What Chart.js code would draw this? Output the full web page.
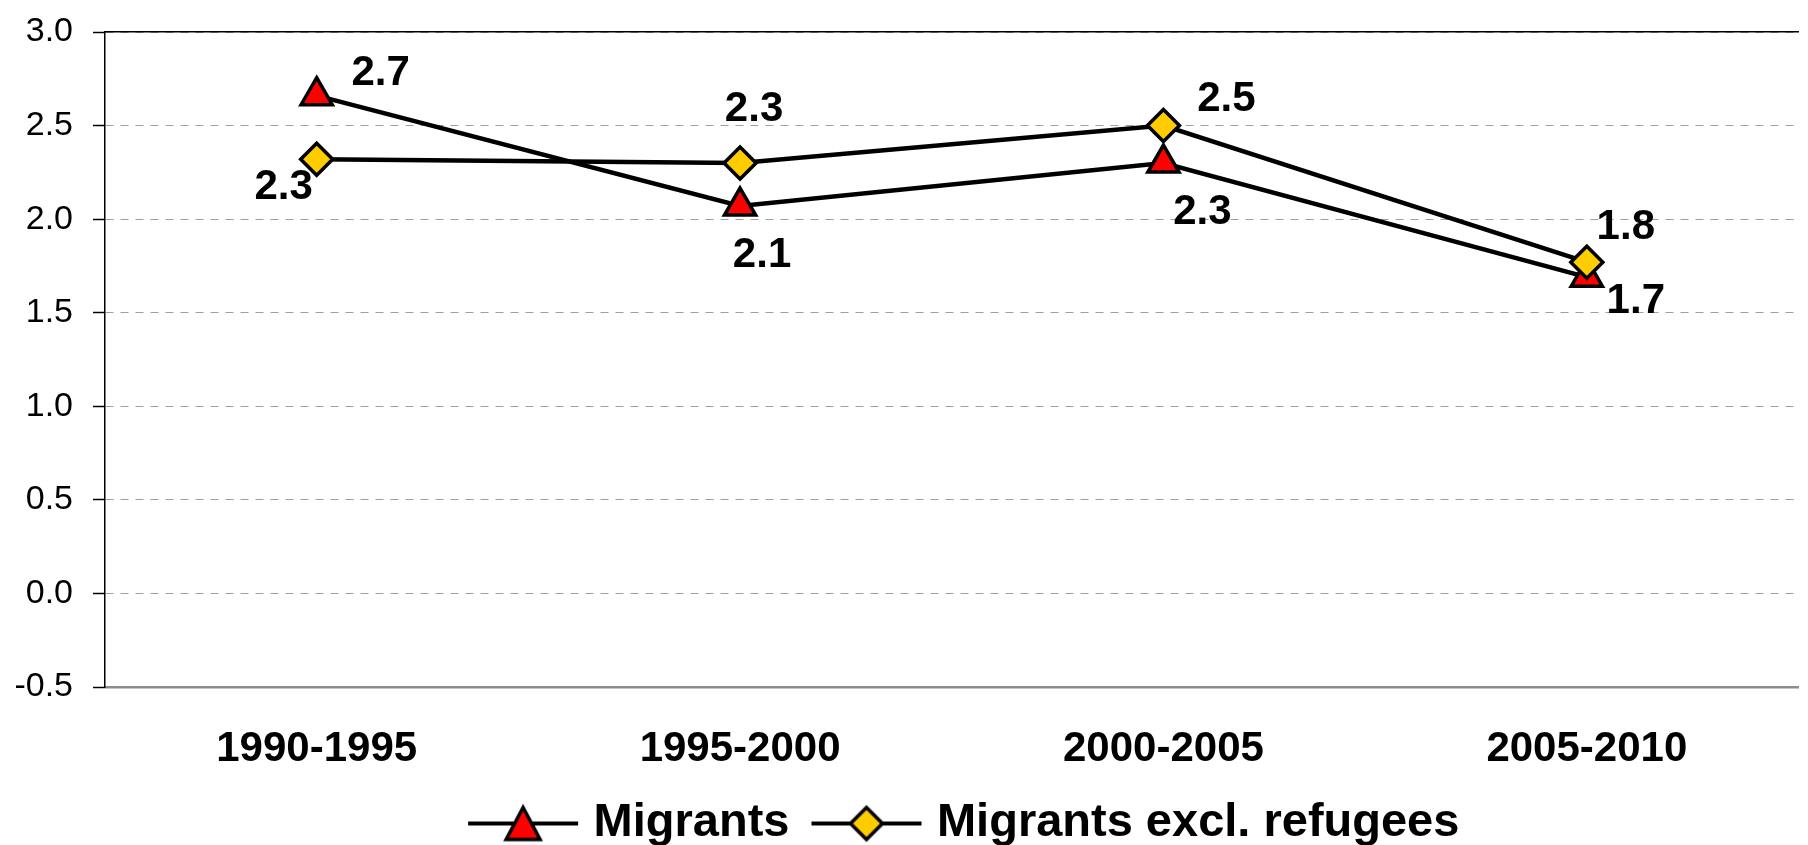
<!DOCTYPE html>
<html>
<head>
<meta charset="utf-8">
<script src="https://cdn.jsdelivr.net/npm/chart.js@4.4.1/dist/chart.umd.min.js"></script>
<style>
  html, body { margin: 0; padding: 0; background: #fff; overflow: hidden; }
  #wrap { width: 1820px; height: 857px; }
</style>
</head>
<body>
<div id="wrap"><canvas id="chart" width="1820" height="857"></canvas></div>
<script>
const periods = ['1990-1995', '1995-2000', '2000-2005', '2005-2010'];
const migrants = [2.66, 2.07, 2.30, 1.69];
const migrantsExclRefugees = [2.32, 2.30, 2.50, 1.77];
const yTicks = [-0.5, 0.0, 0.5, 1.0, 1.5, 2.0, 2.5, 3.0];
const seriesNames = ['Migrants', 'Migrants excl. refugees'];

// where each value label sits relative to its marker, in px
const labelOffsets = [
  [[64, -22], [22, 49], [39, 49], [49, 24]],
  [[-33, 28], [14, -54], [63, -26], [39, -35]]
];

const FONT = "'Liberation Sans', Arial, sans-serif";

// line + marker symbol for the legend
function legendSymbol(shape, fill) {
  const c = document.createElement('canvas');
  c.width = 112;
  c.height = 44;
  const g = c.getContext('2d');
  g.strokeStyle = '#000';
  g.lineWidth = 4;
  g.beginPath();
  g.moveTo(1, 22);
  g.lineTo(111, 22);
  g.stroke();
  g.fillStyle = fill;
  g.lineWidth = 3.5;
  g.lineJoin = 'miter';
  g.beginPath();
  if (shape === 'triangle') {
    g.moveTo(56, 6);
    g.lineTo(73, 38);
    g.lineTo(39, 38);
  } else {
    g.moveTo(56, 6);
    g.lineTo(72, 22);
    g.lineTo(56, 38);
    g.lineTo(40, 22);
  }
  g.closePath();
  g.fill();
  g.stroke();
  return c;
}
const symbols = [legendSymbol('triangle', '#ff0000'), legendSymbol('diamond', '#ffcc00')];

const valueLabels = {
  id: 'valueLabels',
  afterDatasetsDraw(chart) {
    const ctx = chart.ctx;
    ctx.save();
    ctx.font = 'bold 42px ' + FONT;
    ctx.fillStyle = '#000';
    ctx.textAlign = 'center';
    ctx.textBaseline = 'middle';
    chart.data.datasets.forEach((ds, i) => {
      chart.getDatasetMeta(i).data.forEach((pt, j) => {
        const off = labelOffsets[i][j];
        ctx.fillText(ds.data[j].toFixed(1), pt.x + off[0], pt.y + off[1]);
      });
    });
    ctx.restore();
  }
};

// legend sits a little right of the plot centre in the original
const legendShift = {
  id: 'legendShift',
  afterLayout(chart) {
    chart.legend.left += 16;
    chart.legend.right += 16;
  }
};

new Chart(document.getElementById('chart'), {
  type: 'line',
  data: {
    labels: periods,
    datasets: [
      {
        label: seriesNames[0],
        data: migrants,
        order: 1,
        borderColor: '#000',
        borderWidth: 4.5,
        pointStyle: 'triangle',
        pointRadius: 18,
        pointBackgroundColor: '#ff0000',
        pointBorderColor: '#000',
        pointBorderWidth: 3.5,
        tension: 0
      },
      {
        label: seriesNames[1],
        data: migrantsExclRefugees,
        order: 0,
        borderColor: '#000',
        borderWidth: 4.5,
        pointStyle: 'rectRot',
        pointRadius: 16,
        pointBackgroundColor: '#ffcc00',
        pointBorderColor: '#000',
        pointBorderWidth: 3.5,
        tension: 0
      }
    ]
  },
  options: {
    responsive: false,
    devicePixelRatio: 1,
    animation: false,
    layout: { padding: { top: 32, left: 0, right: 0, bottom: 0 } },
    scales: {
      x: {
        offset: true,
        grid: { display: false, drawTicks: false },
        border: { display: true, color: '#8c8c8c', width: 2.5 },
        ticks: {
          font: { family: FONT, size: 42, weight: 'bold' },
          color: '#000',
          padding: 37,
          maxRotation: 0,
          autoSkip: false
        },
        afterFit: (s) => { s.height = 83; }
      },
      x2: {
        type: 'category',
        position: 'top',
        labels: periods,
        offset: true,
        grid: { display: false, drawTicks: false },
        ticks: { display: false },
        border: { display: true, color: '#000', width: 1.5 },
        afterFit: (s) => { s.height = 0; }
      },
      y: {
        min: -0.5,
        max: 3.0,
        afterBuildTicks: (s) => { s.ticks = yTicks.map(v => ({ value: v })); },
        ticks: {
          font: { family: FONT, size: 34 },
          color: '#000',
          padding: 20,
          callback: (v) => Number(v).toFixed(1)
        },
        grid: {
          color: '#a0a0a0',
          lineWidth: 1,
          tickLength: 12,
          tickColor: '#000',
          tickWidth: 1.5
        },
        border: { display: true, color: '#000', width: 1.5, dash: [8, 7] },
        afterFit: (s) => {
          s.width = 105;
          s.paddingTop = 0;
          s.paddingBottom = 0;
        }
      }
    },
    plugins: {
      tooltip: { enabled: false },
      legend: {
        position: 'bottom',
        fullSize: false,
        labels: {
          font: { family: FONT, size: 47, weight: 'bold' },
          color: '#000',
          usePointStyle: true,
          pointStyleWidth: 94,
          padding: 30,
          generateLabels: (chart) => Chart.defaults.plugins.legend.labels.generateLabels(chart)
            .sort((a, b) => a.datasetIndex - b.datasetIndex)
            .map(l => Object.assign(l, { pointStyle: symbols[l.datasetIndex] }))
        }
      }
    }
  },
  plugins: [valueLabels, legendShift]
});
</script>
</body>
</html>
